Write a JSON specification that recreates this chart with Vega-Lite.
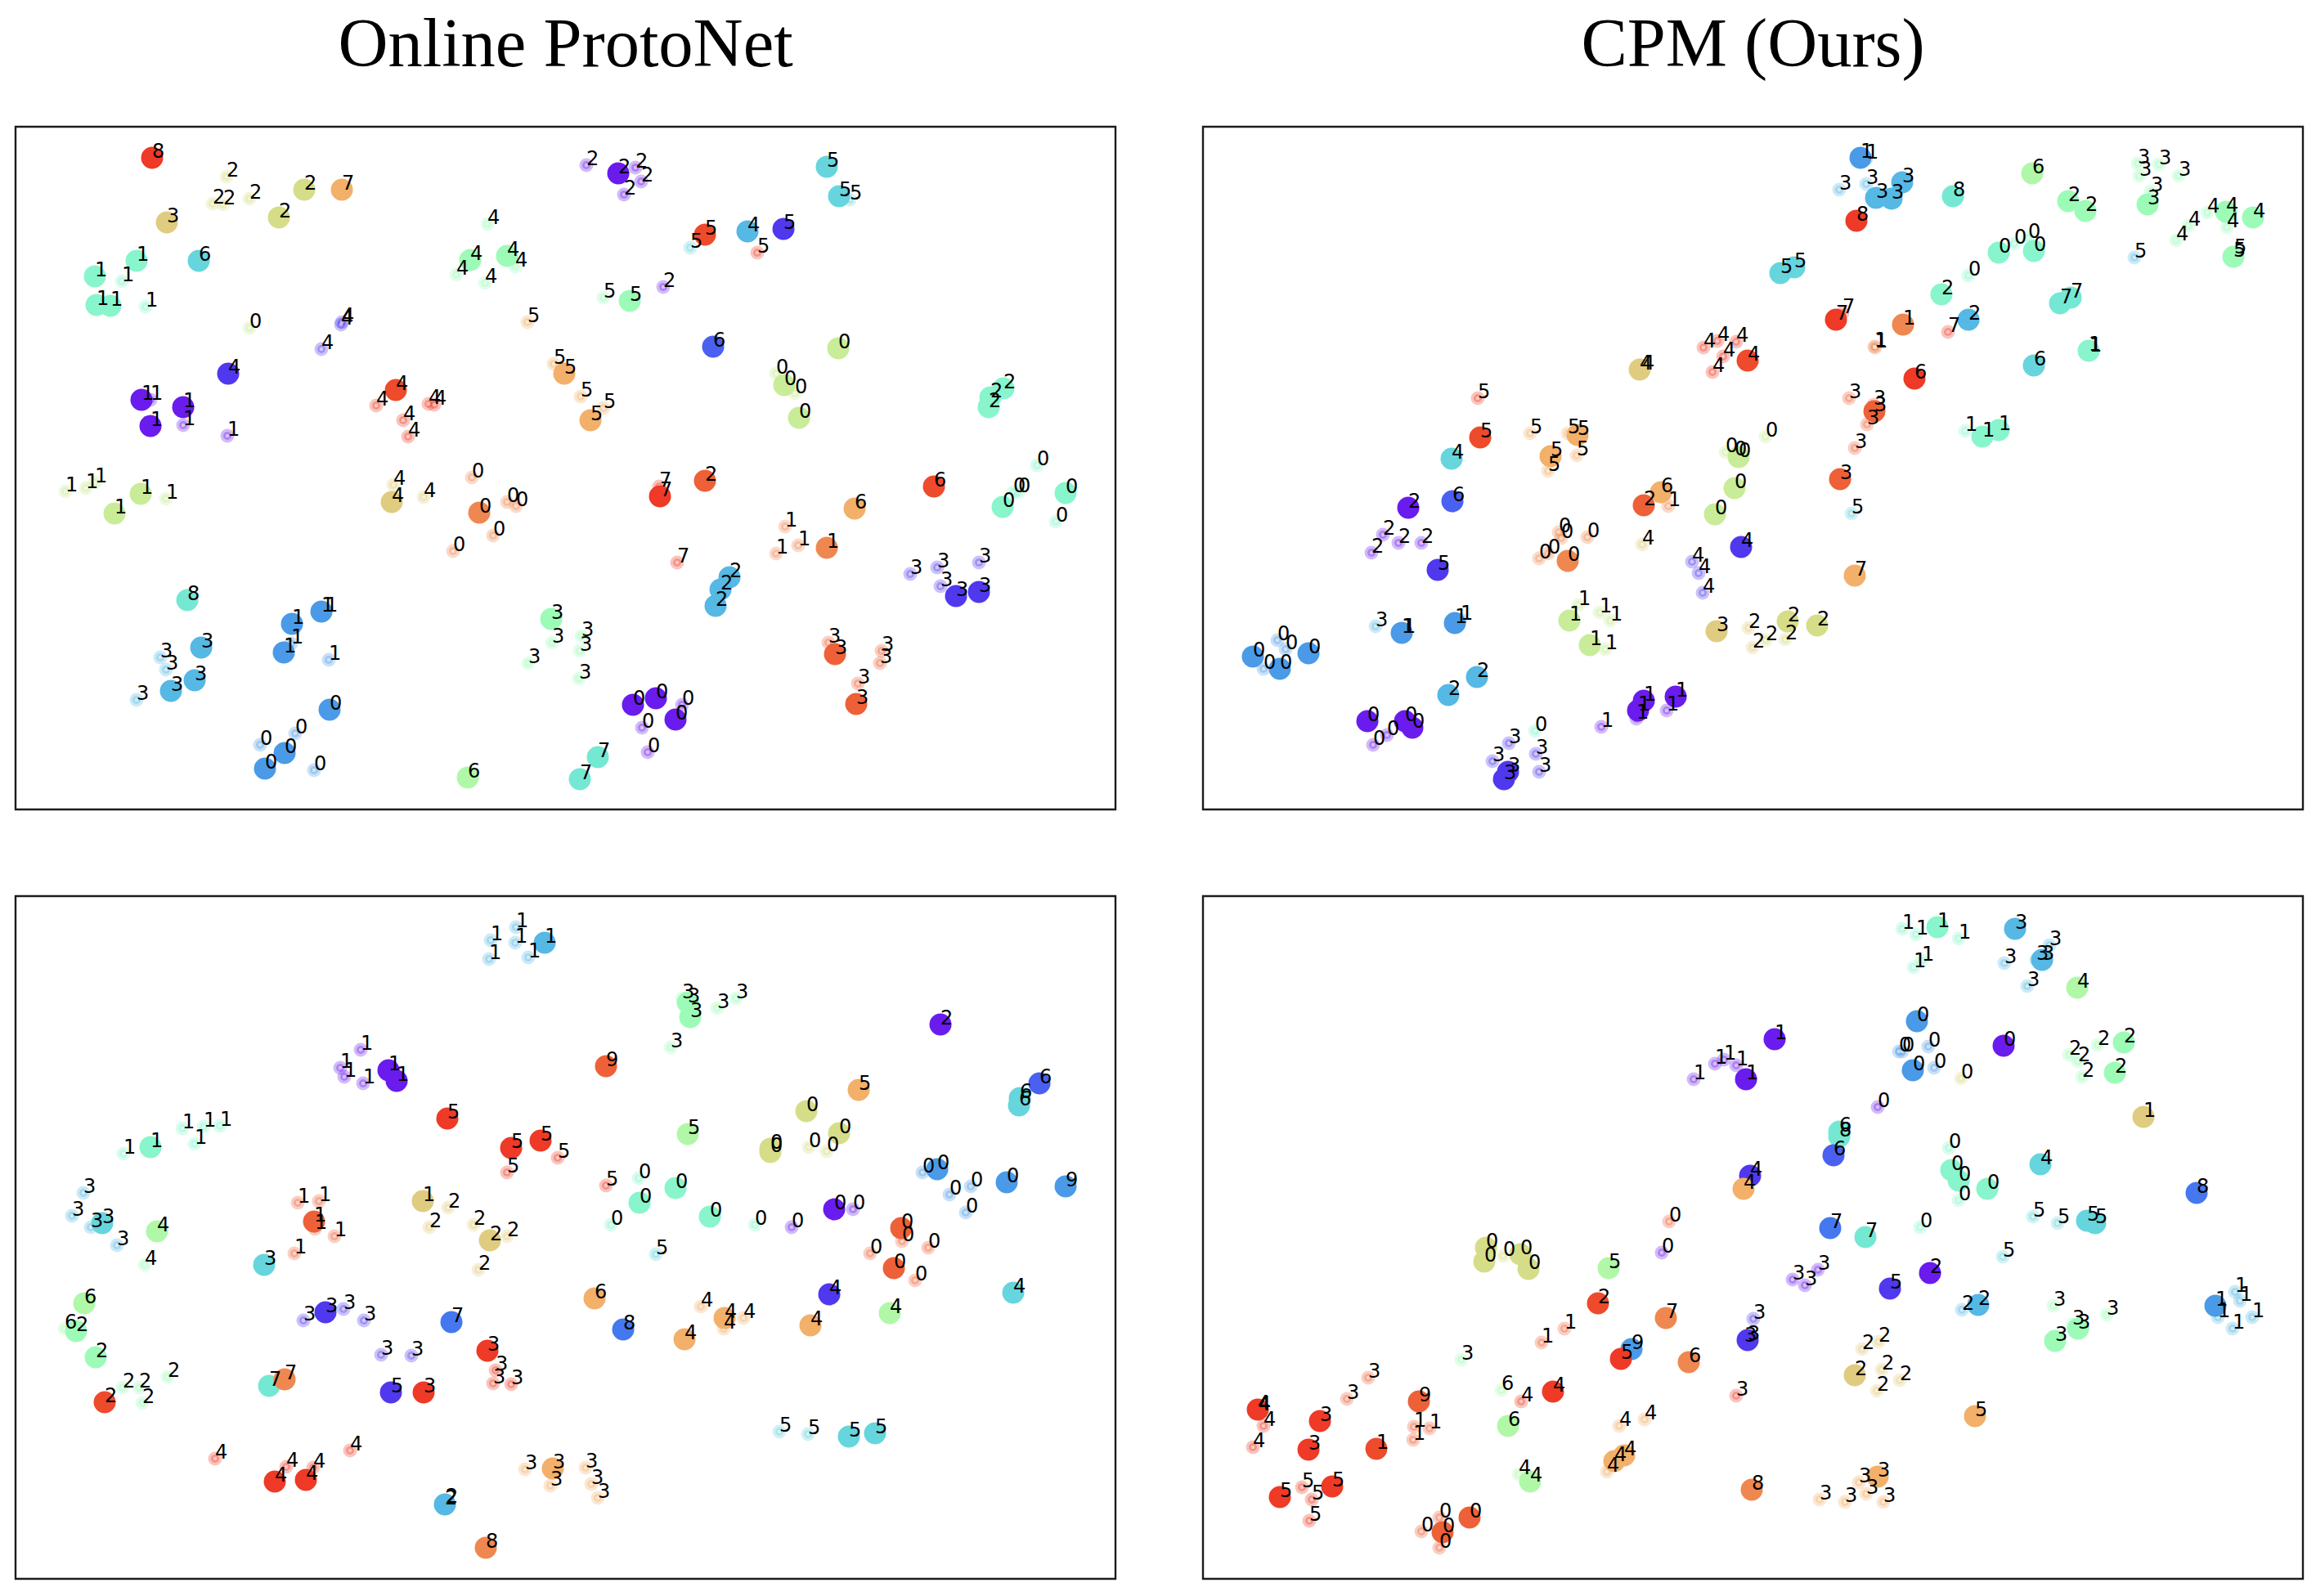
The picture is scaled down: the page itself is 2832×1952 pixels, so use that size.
{"$schema":"https://vega.github.io/schema/vega-lite/v6.json","background":"white","padding":{"left":17,"top":11,"right":10,"bottom":10},"autosize":{"type":"pad"},"config":{"view":{"stroke":"#1c1c1c","strokeWidth":2.4},"range":{"ordinal":["#6a1bee","#5038ee","#4a60f0","#4a9ae8","#55b8e5","#66d5dd","#75e8d3","#88f5cc","#9dfbb8","#b0f8a8","#c8ec98","#d6dd88","#e0cc80","#f2b06a","#ef8850","#ee6038","#ee3a26","#4578ef","#ee4a2c"]}},"spacing":102,
"datasets":{
"a":[{"x":185,"y":193,"d":8,"h":16,"k":1},{"x":203,"y":272,"d":3,"h":12,"k":1},{"x":371,"y":232,"d":2,"h":11,"k":1},{"x":417,"y":232,"d":7,"h":13,"k":1},{"x":340,"y":266,"d":2,"h":11,"k":1},{"x":166,"y":319,"d":1,"h":7,"k":1},{"x":242,"y":319,"d":6,"h":5,"k":1},{"x":115,"y":338,"d":1,"h":7,"k":1},{"x":117,"y":373,"d":1,"h":7,"k":1},{"x":134,"y":374,"d":1,"h":7,"k":1},{"x":574,"y":318,"d":4,"h":8,"k":1},{"x":619,"y":313,"d":4,"h":8,"k":1},{"x":278,"y":457,"d":4,"h":1,"k":1},{"x":483,"y":477,"d":4,"h":18,"k":1},{"x":172,"y":489,"d":1,"h":0,"k":1},{"x":223,"y":498,"d":1,"h":0,"k":1},{"x":183,"y":521,"d":1,"h":0,"k":1},{"x":689,"y":457,"d":5,"h":13,"k":1},{"x":276,"y":216,"d":2,"h":11,"k":0},{"x":259,"y":249,"d":2,"h":11,"k":0},{"x":272,"y":250,"d":2,"h":11,"k":0},{"x":304,"y":243,"d":2,"h":11,"k":0},{"x":595,"y":274,"d":4,"h":8,"k":0},{"x":557,"y":336,"d":4,"h":8,"k":0},{"x":629,"y":326,"d":4,"h":8,"k":0},{"x":592,"y":346,"d":4,"h":8,"k":0},{"x":148,"y":344,"d":1,"h":7,"k":0},{"x":177,"y":375,"d":1,"h":7,"k":0},{"x":304,"y":401,"d":0,"h":10,"k":0},{"x":416,"y":397,"d":4,"h":1,"k":0},{"x":417,"y":394,"d":4,"h":1,"k":0},{"x":392,"y":427,"d":4,"h":1,"k":0},{"x":644,"y":394,"d":5,"h":13,"k":0},{"x":676,"y":445,"d":5,"h":13,"k":0},{"x":459,"y":496,"d":4,"h":16,"k":0},{"x":523,"y":494,"d":4,"h":16,"k":0},{"x":530,"y":495,"d":4,"h":16,"k":0},{"x":492,"y":514,"d":4,"h":16,"k":0},{"x":498,"y":534,"d":4,"h":16,"k":0},{"x":183,"y":489,"d":1,"h":0,"k":0},{"x":223,"y":520,"d":1,"h":0,"k":0},{"x":277,"y":533,"d":1,"h":0,"k":0},{"x":716,"y":202,"d":2,"h":0,"k":0},{"x":776,"y":205,"d":2,"h":0,"k":0},{"x":783,"y":222,"d":2,"h":0,"k":0},{"x":762,"y":238,"d":2,"h":0,"k":0},{"x":755,"y":212,"d":2,"h":0,"k":1},{"x":1010,"y":204,"d":5,"h":5,"k":1},{"x":1025,"y":240,"d":5,"h":5,"k":1},{"x":1038,"y":244,"d":5,"h":5,"k":0},{"x":861,"y":287,"d":5,"h":18,"k":1},{"x":843,"y":303,"d":5,"h":5,"k":0},{"x":913,"y":283,"d":4,"h":4,"k":1},{"x":957,"y":280,"d":5,"h":1,"k":1},{"x":925,"y":309,"d":5,"h":16,"k":0},{"x":737,"y":364,"d":5,"h":8,"k":0},{"x":769,"y":368,"d":5,"h":8,"k":1},{"x":810,"y":351,"d":2,"h":0,"k":0},{"x":871,"y":424,"d":6,"h":2,"k":1},{"x":1024,"y":426,"d":0,"h":10,"k":1},{"x":948,"y":457,"d":0,"h":10,"k":0},{"x":958,"y":471,"d":0,"h":10,"k":1},{"x":971,"y":481,"d":0,"h":10,"k":0},{"x":976,"y":511,"d":0,"h":10,"k":1},{"x":1226,"y":475,"d":2,"h":7,"k":1},{"x":1210,"y":486,"d":2,"h":7,"k":1},{"x":1208,"y":498,"d":2,"h":7,"k":1},{"x":709,"y":485,"d":5,"h":13,"k":0},{"x":737,"y":499,"d":5,"h":13,"k":0},{"x":721,"y":514,"d":5,"h":13,"k":1},{"x":1267,"y":569,"d":0,"h":7,"k":0},{"x":79,"y":601,"d":1,"h":10,"k":0},{"x":104,"y":597,"d":1,"h":10,"k":0},{"x":115,"y":590,"d":1,"h":10,"k":0},{"x":171,"y":604,"d":1,"h":10,"k":1},{"x":139,"y":628,"d":1,"h":10,"k":1},{"x":202,"y":610,"d":1,"h":10,"k":0},{"x":480,"y":593,"d":4,"h":12,"k":0},{"x":478,"y":614,"d":4,"h":12,"k":1},{"x":517,"y":608,"d":4,"h":12,"k":0},{"x":576,"y":584,"d":0,"h":14,"k":0},{"x":585,"y":627,"d":0,"h":14,"k":1},{"x":619,"y":614,"d":0,"h":14,"k":0},{"x":630,"y":619,"d":0,"h":14,"k":0},{"x":602,"y":655,"d":0,"h":14,"k":0},{"x":553,"y":674,"d":0,"h":14,"k":0},{"x":228,"y":734,"d":8,"h":6,"k":1},{"x":392,"y":748,"d":1,"h":3,"k":1},{"x":397,"y":748,"d":1,"h":3,"k":0},{"x":356,"y":763,"d":1,"h":3,"k":1},{"x":355,"y":787,"d":1,"h":3,"k":0},{"x":346,"y":798,"d":1,"h":3,"k":1},{"x":401,"y":807,"d":1,"h":3,"k":0},{"x":245,"y":792,"d":3,"h":4,"k":1},{"x":195,"y":804,"d":3,"h":4,"k":0},{"x":202,"y":819,"d":3,"h":4,"k":0},{"x":237,"y":832,"d":3,"h":4,"k":1},{"x":208,"y":845,"d":3,"h":4,"k":1},{"x":166,"y":856,"d":3,"h":4,"k":0},{"x":402,"y":868,"d":0,"h":3,"k":1},{"x":360,"y":897,"d":0,"h":3,"k":0},{"x":317,"y":911,"d":0,"h":3,"k":0},{"x":347,"y":921,"d":0,"h":3,"k":1},{"x":323,"y":940,"d":0,"h":3,"k":1},{"x":383,"y":942,"d":0,"h":3,"k":0},{"x":571,"y":951,"d":6,"h":9,"k":1},{"x":673,"y":757,"d":3,"h":8,"k":1},{"x":674,"y":786,"d":3,"h":8,"k":0},{"x":645,"y":811,"d":3,"h":8,"k":0},{"x":707,"y":830,"d":3,"h":8,"k":0},{"x":805,"y":595,"d":7,"h":16,"k":0},{"x":806,"y":607,"d":7,"h":16,"k":1},{"x":861,"y":588,"d":2,"h":15,"k":1},{"x":959,"y":644,"d":1,"h":14,"k":0},{"x":975,"y":667,"d":1,"h":14,"k":0},{"x":948,"y":677,"d":1,"h":14,"k":0},{"x":1010,"y":670,"d":1,"h":14,"k":1},{"x":1044,"y":622,"d":6,"h":13,"k":1},{"x":1141,"y":595,"d":6,"h":18,"k":1},{"x":1225,"y":620,"d":0,"h":7,"k":1},{"x":1238,"y":602,"d":0,"h":7,"k":0},{"x":1244,"y":602,"d":0,"h":7,"k":0},{"x":1302,"y":603,"d":0,"h":7,"k":1},{"x":1290,"y":638,"d":0,"h":7,"k":0},{"x":827,"y":688,"d":7,"h":16,"k":0},{"x":891,"y":706,"d":2,"h":4,"k":1},{"x":880,"y":721,"d":2,"h":4,"k":1},{"x":874,"y":741,"d":2,"h":4,"k":1},{"x":1112,"y":702,"d":3,"h":1,"k":0},{"x":1145,"y":694,"d":3,"h":1,"k":0},{"x":1196,"y":688,"d":3,"h":1,"k":0},{"x":1149,"y":717,"d":3,"h":1,"k":0},{"x":1168,"y":729,"d":3,"h":1,"k":1},{"x":1196,"y":724,"d":3,"h":1,"k":1},{"x":1012,"y":786,"d":3,"h":15,"k":0},{"x":1020,"y":800,"d":3,"h":15,"k":1},{"x":1077,"y":796,"d":3,"h":15,"k":0},{"x":1075,"y":811,"d":3,"h":15,"k":0},{"x":1048,"y":836,"d":3,"h":15,"k":0},{"x":1046,"y":861,"d":3,"h":15,"k":1},{"x":773,"y":862,"d":0,"h":0,"k":1},{"x":801,"y":854,"d":0,"h":0,"k":1},{"x":833,"y":862,"d":0,"h":0,"k":0},{"x":825,"y":880,"d":0,"h":0,"k":1},{"x":784,"y":890,"d":0,"h":0,"k":0},{"x":791,"y":920,"d":0,"h":0,"k":0},{"x":730,"y":926,"d":7,"h":6,"k":1},{"x":708,"y":953,"d":7,"h":6,"k":1},{"x":710,"y":778,"d":3,"h":8,"k":0},{"x":708,"y":796,"d":3,"h":8,"k":0}],
"b":[{"x":1807,"y":487,"d":5,"h":16,"k":0},{"x":1810,"y":535,"d":5,"h":18,"k":1},{"x":1775,"y":561,"d":4,"h":5,"k":1},{"x":1776,"y":613,"d":6,"h":2,"k":1},{"x":1722,"y":621,"d":2,"h":0,"k":1},{"x":1691,"y":654,"d":2,"h":0,"k":0},{"x":1710,"y":664,"d":2,"h":0,"k":0},{"x":1738,"y":664,"d":2,"h":0,"k":0},{"x":1677,"y":676,"d":2,"h":0,"k":0},{"x":1758,"y":697,"d":5,"h":1,"k":1},{"x":1682,"y":766,"d":3,"h":4,"k":0},{"x":1714,"y":774,"d":1,"h":3,"k":1},{"x":1716,"y":774,"d":1,"h":3,"k":0},{"x":1779,"y":762,"d":1,"h":3,"k":1},{"x":1786,"y":758,"d":1,"h":3,"k":0},{"x":1532,"y":803,"d":0,"h":3,"k":1},{"x":1562,"y":783,"d":0,"h":3,"k":0},{"x":1572,"y":794,"d":0,"h":3,"k":0},{"x":1545,"y":818,"d":0,"h":3,"k":0},{"x":1565,"y":818,"d":0,"h":3,"k":1},{"x":1600,"y":799,"d":0,"h":3,"k":1},{"x":1806,"y":828,"d":2,"h":4,"k":1},{"x":1771,"y":850,"d":2,"h":4,"k":1},{"x":1672,"y":882,"d":0,"h":0,"k":1},{"x":1718,"y":882,"d":0,"h":0,"k":1},{"x":1727,"y":890,"d":0,"h":0,"k":1},{"x":1696,"y":899,"d":0,"h":0,"k":0},{"x":1679,"y":911,"d":0,"h":0,"k":0},{"x":1845,"y":909,"d":3,"h":1,"k":0},{"x":1825,"y":931,"d":3,"h":1,"k":0},{"x":1844,"y":944,"d":3,"h":1,"k":1},{"x":1839,"y":953,"d":3,"h":1,"k":1},{"x":1878,"y":922,"d":3,"h":1,"k":0},{"x":1882,"y":944,"d":3,"h":1,"k":0},{"x":1877,"y":894,"d":0,"h":7,"k":0},{"x":1958,"y":889,"d":1,"h":0,"k":0},{"x":2001,"y":879,"d":1,"h":0,"k":0},{"x":2003,"y":869,"d":1,"h":0,"k":1},{"x":2010,"y":857,"d":1,"h":0,"k":1},{"x":2049,"y":852,"d":1,"h":0,"k":1},{"x":2038,"y":869,"d":1,"h":0,"k":0},{"x":1871,"y":530,"d":5,"h":13,"k":0},{"x":1917,"y":530,"d":5,"h":13,"k":0},{"x":1929,"y":532,"d":5,"h":13,"k":1},{"x":1928,"y":557,"d":5,"h":13,"k":0},{"x":1896,"y":558,"d":5,"h":13,"k":1},{"x":1893,"y":576,"d":5,"h":13,"k":0},{"x":2005,"y":452,"d":4,"h":12,"k":1},{"x":2008,"y":452,"d":4,"h":12,"k":0},{"x":1906,"y":651,"d":0,"h":14,"k":0},{"x":1909,"y":658,"d":0,"h":14,"k":0},{"x":1941,"y":657,"d":0,"h":14,"k":0},{"x":1893,"y":677,"d":0,"h":14,"k":0},{"x":1882,"y":683,"d":0,"h":14,"k":0},{"x":1917,"y":686,"d":0,"h":14,"k":1},{"x":2010,"y":618,"d":2,"h":15,"k":1},{"x":2031,"y":602,"d":6,"h":13,"k":1},{"x":2040,"y":619,"d":1,"h":14,"k":0},{"x":2008,"y":666,"d":4,"h":12,"k":0},{"x":1930,"y":740,"d":1,"h":10,"k":0},{"x":1919,"y":759,"d":1,"h":10,"k":1},{"x":1956,"y":749,"d":1,"h":10,"k":0},{"x":1969,"y":759,"d":1,"h":10,"k":0},{"x":1944,"y":789,"d":1,"h":10,"k":1},{"x":1963,"y":794,"d":1,"h":10,"k":0},{"x":2099,"y":772,"d":3,"h":12,"k":1},{"x":2083,"y":425,"d":4,"h":16,"k":0},{"x":2100,"y":417,"d":4,"h":16,"k":0},{"x":2123,"y":418,"d":4,"h":16,"k":0},{"x":2107,"y":436,"d":4,"h":16,"k":0},{"x":2094,"y":455,"d":4,"h":16,"k":0},{"x":2137,"y":441,"d":4,"h":18,"k":1},{"x":2110,"y":553,"d":0,"h":10,"k":0},{"x":2126,"y":559,"d":0,"h":10,"k":1},{"x":2121,"y":557,"d":0,"h":10,"k":0},{"x":2121,"y":597,"d":0,"h":10,"k":1},{"x":2097,"y":629,"d":0,"h":10,"k":1},{"x":2129,"y":669,"d":4,"h":1,"k":1},{"x":2069,"y":687,"d":4,"h":1,"k":0},{"x":2077,"y":701,"d":4,"h":1,"k":0},{"x":2082,"y":725,"d":4,"h":1,"k":0},{"x":2138,"y":768,"d":2,"h":12,"k":0},{"x":2143,"y":792,"d":2,"h":12,"k":0},{"x":2275,"y":193,"d":1,"h":3,"k":1},{"x":2282,"y":194,"d":1,"h":3,"k":0},{"x":2249,"y":232,"d":3,"h":4,"k":0},{"x":2282,"y":225,"d":3,"h":4,"k":0},{"x":2326,"y":223,"d":3,"h":4,"k":1},{"x":2294,"y":242,"d":3,"h":4,"k":1},{"x":2313,"y":243,"d":3,"h":4,"k":1},{"x":2270,"y":270,"d":8,"h":16,"k":1},{"x":2388,"y":240,"d":8,"h":6,"k":1},{"x":2485,"y":212,"d":6,"h":9,"k":1},{"x":2529,"y":246,"d":2,"h":8,"k":1},{"x":2550,"y":258,"d":2,"h":8,"k":1},{"x":2614,"y":200,"d":3,"h":8,"k":0},{"x":2640,"y":201,"d":3,"h":8,"k":0},{"x":2616,"y":215,"d":3,"h":8,"k":0},{"x":2664,"y":215,"d":3,"h":8,"k":0},{"x":2630,"y":234,"d":3,"h":8,"k":0},{"x":2626,"y":250,"d":3,"h":8,"k":1},{"x":2699,"y":260,"d":4,"h":8,"k":0},{"x":2676,"y":276,"d":4,"h":8,"k":0},{"x":2661,"y":294,"d":4,"h":8,"k":0},{"x":2722,"y":259,"d":4,"h":8,"k":1},{"x":2723,"y":278,"d":4,"h":8,"k":0},{"x":2755,"y":266,"d":4,"h":8,"k":1},{"x":2610,"y":315,"d":5,"h":4,"k":0},{"x":2731,"y":314,"d":5,"h":8,"k":1},{"x":2732,"y":310,"d":5,"h":8,"k":0},{"x":2444,"y":309,"d":0,"h":7,"k":1},{"x":2463,"y":298,"d":0,"h":7,"k":0},{"x":2480,"y":291,"d":0,"h":7,"k":0},{"x":2487,"y":307,"d":0,"h":7,"k":1},{"x":2407,"y":337,"d":0,"h":7,"k":0},{"x":2374,"y":360,"d":2,"h":7,"k":1},{"x":2194,"y":327,"d":5,"h":5,"k":1},{"x":2177,"y":334,"d":5,"h":5,"k":1},{"x":2245,"y":391,"d":7,"h":16,"k":1},{"x":2253,"y":383,"d":7,"h":16,"k":0},{"x":2327,"y":397,"d":1,"h":14,"k":1},{"x":2292,"y":424,"d":1,"h":14,"k":0},{"x":2293,"y":425,"d":1,"h":14,"k":0},{"x":2382,"y":406,"d":7,"h":16,"k":0},{"x":2407,"y":391,"d":2,"h":4,"k":1},{"x":2519,"y":371,"d":7,"h":6,"k":1},{"x":2532,"y":364,"d":7,"h":6,"k":1},{"x":2554,"y":429,"d":1,"h":7,"k":1},{"x":2555,"y":430,"d":1,"h":7,"k":0},{"x":2487,"y":447,"d":6,"h":5,"k":1},{"x":2341,"y":463,"d":6,"h":16,"k":1},{"x":2261,"y":487,"d":3,"h":15,"k":0},{"x":2291,"y":495,"d":3,"h":15,"k":0},{"x":2292,"y":503,"d":3,"h":15,"k":1},{"x":2283,"y":519,"d":3,"h":15,"k":0},{"x":2268,"y":548,"d":3,"h":15,"k":0},{"x":2250,"y":586,"d":3,"h":15,"k":1},{"x":2159,"y":534,"d":0,"h":10,"k":0},{"x":2403,"y":527,"d":1,"h":7,"k":0},{"x":2424,"y":534,"d":1,"h":7,"k":1},{"x":2444,"y":526,"d":1,"h":7,"k":1},{"x":2264,"y":628,"d":5,"h":5,"k":0},{"x":2268,"y":704,"d":7,"h":13,"k":1},{"x":2186,"y":760,"d":2,"h":11,"k":1},{"x":2222,"y":765,"d":2,"h":11,"k":1},{"x":2159,"y":783,"d":2,"h":11,"k":0},{"x":2183,"y":782,"d":2,"h":11,"k":0}],
"c":[{"x":630,"y":1135,"d":1,"h":4,"k":0},{"x":599,"y":1151,"d":1,"h":4,"k":0},{"x":629,"y":1154,"d":1,"h":4,"k":0},{"x":597,"y":1174,"d":1,"h":4,"k":0},{"x":645,"y":1172,"d":1,"h":4,"k":0},{"x":665,"y":1154,"d":1,"h":4,"k":1},{"x":440,"y":1285,"d":1,"h":0,"k":0},{"x":415,"y":1307,"d":1,"h":0,"k":0},{"x":420,"y":1318,"d":1,"h":0,"k":0},{"x":443,"y":1326,"d":1,"h":0,"k":0},{"x":474,"y":1310,"d":1,"h":0,"k":1},{"x":484,"y":1323,"d":1,"h":0,"k":1},{"x":546,"y":1369,"d":5,"h":16,"k":1},{"x":624,"y":1405,"d":5,"h":16,"k":1},{"x":660,"y":1396,"d":5,"h":16,"k":1},{"x":619,"y":1435,"d":5,"h":16,"k":0},{"x":681,"y":1417,"d":5,"h":16,"k":0},{"x":183,"y":1404,"d":1,"h":7,"k":1},{"x":150,"y":1412,"d":1,"h":7,"k":0},{"x":222,"y":1381,"d":1,"h":7,"k":0},{"x":248,"y":1379,"d":1,"h":7,"k":0},{"x":268,"y":1378,"d":1,"h":7,"k":0},{"x":237,"y":1400,"d":1,"h":7,"k":0},{"x":101,"y":1460,"d":3,"h":4,"k":0},{"x":87,"y":1488,"d":3,"h":4,"k":0},{"x":110,"y":1502,"d":3,"h":4,"k":0},{"x":124,"y":1497,"d":3,"h":5,"k":1},{"x":142,"y":1524,"d":3,"h":4,"k":0},{"x":191,"y":1507,"d":4,"h":9,"k":1},{"x":176,"y":1548,"d":4,"h":8,"k":0},{"x":363,"y":1472,"d":1,"h":15,"k":0},{"x":389,"y":1470,"d":1,"h":15,"k":0},{"x":383,"y":1495,"d":1,"h":15,"k":1},{"x":384,"y":1504,"d":1,"h":15,"k":0},{"x":408,"y":1513,"d":1,"h":15,"k":0},{"x":359,"y":1534,"d":1,"h":15,"k":0},{"x":322,"y":1548,"d":3,"h":5,"k":1},{"x":516,"y":1470,"d":1,"h":12,"k":1},{"x":547,"y":1478,"d":2,"h":12,"k":0},{"x":524,"y":1502,"d":2,"h":12,"k":0},{"x":578,"y":1499,"d":2,"h":12,"k":0},{"x":598,"y":1518,"d":2,"h":12,"k":1},{"x":619,"y":1513,"d":2,"h":12,"k":0},{"x":584,"y":1554,"d":2,"h":12,"k":0},{"x":102,"y":1595,"d":6,"h":9,"k":1},{"x":78,"y":1626,"d":6,"h":9,"k":0},{"x":92,"y":1629,"d":2,"h":8,"k":1},{"x":116,"y":1661,"d":2,"h":8,"k":1},{"x":127,"y":1716,"d":2,"h":18,"k":1},{"x":149,"y":1698,"d":2,"h":8,"k":0},{"x":169,"y":1698,"d":2,"h":8,"k":0},{"x":173,"y":1717,"d":2,"h":8,"k":0},{"x":204,"y":1685,"d":2,"h":8,"k":0},{"x":370,"y":1616,"d":3,"h":1,"k":0},{"x":397,"y":1606,"d":3,"h":1,"k":1},{"x":419,"y":1602,"d":3,"h":1,"k":0},{"x":444,"y":1616,"d":3,"h":1,"k":0},{"x":465,"y":1658,"d":3,"h":1,"k":0},{"x":502,"y":1659,"d":3,"h":1,"k":0},{"x":551,"y":1618,"d":7,"h":17,"k":1},{"x":595,"y":1653,"d":3,"h":16,"k":1},{"x":605,"y":1677,"d":3,"h":16,"k":0},{"x":602,"y":1693,"d":3,"h":16,"k":0},{"x":624,"y":1694,"d":3,"h":16,"k":0},{"x":517,"y":1704,"d":3,"h":16,"k":1},{"x":477,"y":1704,"d":5,"h":1,"k":1},{"x":328,"y":1696,"d":7,"h":6,"k":1},{"x":347,"y":1688,"d":7,"h":14,"k":1},{"x":262,"y":1785,"d":4,"h":16,"k":0},{"x":349,"y":1795,"d":4,"h":16,"k":0},{"x":382,"y":1796,"d":4,"h":16,"k":0},{"x":427,"y":1775,"d":4,"h":16,"k":0},{"x":335,"y":1813,"d":4,"h":16,"k":1},{"x":373,"y":1811,"d":4,"h":16,"k":1},{"x":543,"y":1841,"d":2,"h":4,"k":1},{"x":544,"y":1839,"d":2,"h":4,"k":0},{"x":593,"y":1894,"d":8,"h":14,"k":1},{"x":641,"y":1798,"d":3,"h":13,"k":0},{"x":675,"y":1797,"d":3,"h":13,"k":1},{"x":672,"y":1818,"d":3,"h":13,"k":0},{"x":715,"y":1796,"d":3,"h":13,"k":0},{"x":722,"y":1816,"d":3,"h":13,"k":0},{"x":730,"y":1833,"d":3,"h":13,"k":0},{"x":833,"y":1222,"d":3,"h":8,"k":0},{"x":840,"y":1227,"d":3,"h":8,"k":1},{"x":843,"y":1245,"d":3,"h":8,"k":1},{"x":876,"y":1234,"d":3,"h":8,"k":0},{"x":899,"y":1222,"d":3,"h":8,"k":0},{"x":819,"y":1282,"d":3,"h":8,"k":0},{"x":740,"y":1305,"d":9,"h":15,"k":1},{"x":1149,"y":1254,"d":2,"h":0,"k":1},{"x":1049,"y":1334,"d":5,"h":13,"k":1},{"x":1270,"y":1326,"d":6,"h":2,"k":1},{"x":1246,"y":1344,"d":6,"h":5,"k":1},{"x":1245,"y":1353,"d":6,"h":5,"k":1},{"x":985,"y":1360,"d":0,"h":11,"k":1},{"x":1025,"y":1387,"d":0,"h":11,"k":1},{"x":988,"y":1404,"d":0,"h":11,"k":0},{"x":1010,"y":1409,"d":0,"h":11,"k":0},{"x":941,"y":1406,"d":0,"h":11,"k":1},{"x":941,"y":1410,"d":0,"h":11,"k":1},{"x":840,"y":1388,"d":5,"h":9,"k":1},{"x":740,"y":1451,"d":5,"h":16,"k":0},{"x":780,"y":1442,"d":0,"h":7,"k":0},{"x":825,"y":1454,"d":0,"h":7,"k":1},{"x":781,"y":1472,"d":0,"h":7,"k":1},{"x":746,"y":1499,"d":0,"h":7,"k":0},{"x":867,"y":1489,"d":0,"h":7,"k":1},{"x":922,"y":1499,"d":0,"h":7,"k":0},{"x":801,"y":1535,"d":5,"h":5,"k":0},{"x":967,"y":1502,"d":0,"h":0,"k":0},{"x":1019,"y":1480,"d":0,"h":0,"k":1},{"x":1042,"y":1480,"d":0,"h":0,"k":0},{"x":1127,"y":1435,"d":0,"h":3,"k":0},{"x":1145,"y":1431,"d":0,"h":3,"k":1},{"x":1160,"y":1462,"d":0,"h":3,"k":0},{"x":1186,"y":1452,"d":0,"h":3,"k":0},{"x":1180,"y":1484,"d":0,"h":3,"k":0},{"x":1230,"y":1447,"d":0,"h":3,"k":1},{"x":1302,"y":1452,"d":9,"h":3,"k":1},{"x":1101,"y":1503,"d":0,"h":15,"k":1},{"x":1102,"y":1519,"d":0,"h":15,"k":0},{"x":1063,"y":1534,"d":0,"h":15,"k":0},{"x":1134,"y":1527,"d":0,"h":15,"k":0},{"x":1092,"y":1552,"d":0,"h":15,"k":1},{"x":1118,"y":1567,"d":0,"h":15,"k":0},{"x":1013,"y":1584,"d":4,"h":1,"k":1},{"x":1238,"y":1582,"d":4,"h":5,"k":1},{"x":1087,"y":1607,"d":4,"h":9,"k":1},{"x":726,"y":1589,"d":6,"h":13,"k":1},{"x":761,"y":1627,"d":8,"h":17,"k":1},{"x":856,"y":1599,"d":4,"h":13,"k":0},{"x":885,"y":1613,"d":4,"h":13,"k":1},{"x":908,"y":1613,"d":4,"h":13,"k":0},{"x":884,"y":1626,"d":4,"h":13,"k":0},{"x":836,"y":1639,"d":4,"h":13,"k":1},{"x":990,"y":1622,"d":4,"h":13,"k":1},{"x":952,"y":1752,"d":5,"h":5,"k":0},{"x":987,"y":1755,"d":5,"h":5,"k":0},{"x":1037,"y":1758,"d":5,"h":5,"k":1},{"x":1069,"y":1754,"d":5,"h":5,"k":1}],
"e":[{"x":2071,"y":1321,"d":1,"h":0,"k":0},{"x":2097,"y":1302,"d":1,"h":0,"k":0},{"x":2108,"y":1297,"d":1,"h":0,"k":0},{"x":2123,"y":1304,"d":1,"h":0,"k":0},{"x":2135,"y":1321,"d":1,"h":0,"k":1},{"x":2140,"y":1439,"d":4,"h":1,"k":1},{"x":2132,"y":1455,"d":4,"h":13,"k":1},{"x":2041,"y":1495,"d":0,"h":15,"k":0},{"x":2032,"y":1533,"d":0,"h":0,"k":0},{"x":1817,"y":1527,"d":0,"h":11,"k":1},{"x":1815,"y":1544,"d":0,"h":11,"k":1},{"x":1838,"y":1537,"d":0,"h":11,"k":0},{"x":1859,"y":1535,"d":0,"h":11,"k":1},{"x":1869,"y":1553,"d":0,"h":11,"k":1},{"x":1967,"y":1552,"d":5,"h":9,"k":1},{"x":1954,"y":1595,"d":2,"h":18,"k":1},{"x":1913,"y":1626,"d":1,"h":15,"k":0},{"x":1885,"y":1643,"d":1,"h":15,"k":0},{"x":2037,"y":1613,"d":7,"h":14,"k":1},{"x":2144,"y":1614,"d":3,"h":1,"k":0},{"x":2137,"y":1640,"d":3,"h":1,"k":1},{"x":2133,"y":1642,"d":3,"h":1,"k":0},{"x":1995,"y":1651,"d":9,"h":3,"k":1},{"x":1982,"y":1663,"d":5,"h":16,"k":1},{"x":2065,"y":1667,"d":6,"h":14,"k":1},{"x":1787,"y":1664,"d":3,"h":8,"k":0},{"x":1673,"y":1686,"d":3,"h":15,"k":0},{"x":1647,"y":1712,"d":3,"h":15,"k":0},{"x":1735,"y":1715,"d":9,"h":15,"k":1},{"x":1836,"y":1701,"d":6,"h":9,"k":0},{"x":1860,"y":1715,"d":4,"h":16,"k":0},{"x":1899,"y":1703,"d":4,"h":16,"k":1},{"x":2123,"y":1708,"d":3,"h":16,"k":0},{"x":1538,"y":1725,"d":4,"h":16,"k":1},{"x":1539,"y":1726,"d":4,"h":16,"k":0},{"x":1545,"y":1745,"d":4,"h":16,"k":0},{"x":1532,"y":1771,"d":4,"h":16,"k":0},{"x":1614,"y":1739,"d":3,"h":16,"k":1},{"x":1600,"y":1774,"d":3,"h":16,"k":1},{"x":1683,"y":1773,"d":1,"h":18,"k":1},{"x":1729,"y":1746,"d":1,"h":15,"k":0},{"x":1748,"y":1748,"d":1,"h":15,"k":0},{"x":1728,"y":1762,"d":1,"h":15,"k":0},{"x":1844,"y":1745,"d":6,"h":9,"k":1},{"x":1980,"y":1745,"d":4,"h":13,"k":0},{"x":2011,"y":1737,"d":4,"h":13,"k":0},{"x":1986,"y":1781,"d":4,"h":13,"k":1},{"x":1974,"y":1788,"d":4,"h":13,"k":1},{"x":1965,"y":1801,"d":4,"h":13,"k":0},{"x":1857,"y":1804,"d":4,"h":9,"k":0},{"x":1871,"y":1813,"d":4,"h":9,"k":1},{"x":2142,"y":1823,"d":8,"h":14,"k":1},{"x":1565,"y":1832,"d":5,"h":16,"k":1},{"x":1592,"y":1820,"d":5,"h":16,"k":0},{"x":1604,"y":1835,"d":5,"h":16,"k":0},{"x":1629,"y":1819,"d":5,"h":16,"k":1},{"x":1601,"y":1861,"d":5,"h":16,"k":0},{"x":1760,"y":1857,"d":0,"h":15,"k":0},{"x":1797,"y":1857,"d":0,"h":15,"k":1},{"x":1738,"y":1874,"d":0,"h":15,"k":0},{"x":1764,"y":1875,"d":0,"h":15,"k":1},{"x":1760,"y":1894,"d":0,"h":15,"k":0},{"x":2170,"y":1272,"d":1,"h":0,"k":1},{"x":2326,"y":1137,"d":1,"h":7,"k":0},{"x":2343,"y":1144,"d":1,"h":7,"k":0},{"x":2369,"y":1135,"d":1,"h":7,"k":1},{"x":2395,"y":1149,"d":1,"h":7,"k":0},{"x":2350,"y":1176,"d":1,"h":7,"k":0},{"x":2340,"y":1184,"d":1,"h":7,"k":0},{"x":2464,"y":1137,"d":3,"h":4,"k":1},{"x":2451,"y":1179,"d":3,"h":4,"k":0},{"x":2506,"y":1157,"d":3,"h":4,"k":0},{"x":2490,"y":1175,"d":3,"h":4,"k":0},{"x":2497,"y":1175,"d":3,"h":4,"k":1},{"x":2479,"y":1207,"d":3,"h":4,"k":0},{"x":2540,"y":1209,"d":4,"h":9,"k":1},{"x":2344,"y":1250,"d":0,"h":3,"k":1},{"x":2322,"y":1287,"d":0,"h":3,"k":0},{"x":2326,"y":1287,"d":0,"h":3,"k":0},{"x":2358,"y":1281,"d":0,"h":3,"k":0},{"x":2339,"y":1310,"d":0,"h":3,"k":1},{"x":2365,"y":1307,"d":0,"h":3,"k":0},{"x":2398,"y":1320,"d":0,"h":11,"k":0},{"x":2450,"y":1280,"d":0,"h":0,"k":1},{"x":2530,"y":1291,"d":2,"h":8,"k":0},{"x":2541,"y":1299,"d":2,"h":8,"k":0},{"x":2565,"y":1279,"d":2,"h":8,"k":0},{"x":2597,"y":1276,"d":2,"h":8,"k":1},{"x":2586,"y":1313,"d":2,"h":8,"k":1},{"x":2546,"y":1318,"d":2,"h":8,"k":0},{"x":2296,"y":1355,"d":0,"h":0,"k":0},{"x":2621,"y":1367,"d":1,"h":12,"k":1},{"x":2249,"y":1385,"d":6,"h":6,"k":1},{"x":2249,"y":1391,"d":8,"h":6,"k":1},{"x":2242,"y":1414,"d":6,"h":2,"k":1},{"x":2383,"y":1405,"d":0,"h":7,"k":0},{"x":2386,"y":1432,"d":0,"h":7,"k":1},{"x":2395,"y":1445,"d":0,"h":7,"k":1},{"x":2395,"y":1469,"d":0,"h":7,"k":0},{"x":2430,"y":1455,"d":0,"h":7,"k":1},{"x":2495,"y":1425,"d":4,"h":5,"k":1},{"x":2686,"y":1460,"d":8,"h":17,"k":1},{"x":2486,"y":1489,"d":5,"h":5,"k":0},{"x":2516,"y":1497,"d":5,"h":5,"k":0},{"x":2552,"y":1494,"d":5,"h":5,"k":1},{"x":2562,"y":1497,"d":5,"h":5,"k":1},{"x":2449,"y":1538,"d":5,"h":5,"k":0},{"x":2238,"y":1503,"d":7,"h":17,"k":1},{"x":2281,"y":1514,"d":7,"h":6,"k":1},{"x":2348,"y":1502,"d":0,"h":7,"k":0},{"x":2192,"y":1566,"d":3,"h":0,"k":0},{"x":2223,"y":1554,"d":3,"h":0,"k":0},{"x":2207,"y":1573,"d":3,"h":0,"k":0},{"x":2311,"y":1577,"d":5,"h":1,"k":1},{"x":2360,"y":1558,"d":2,"h":0,"k":1},{"x":2399,"y":1603,"d":2,"h":4,"k":0},{"x":2419,"y":1597,"d":2,"h":4,"k":1},{"x":2511,"y":1598,"d":3,"h":8,"k":0},{"x":2534,"y":1621,"d":3,"h":8,"k":0},{"x":2541,"y":1626,"d":3,"h":8,"k":1},{"x":2576,"y":1609,"d":3,"h":8,"k":0},{"x":2513,"y":1641,"d":3,"h":8,"k":1},{"x":2709,"y":1598,"d":1,"h":3,"k":1},{"x":2712,"y":1612,"d":1,"h":4,"k":0},{"x":2733,"y":1581,"d":1,"h":4,"k":0},{"x":2739,"y":1592,"d":1,"h":4,"k":0},{"x":2754,"y":1612,"d":1,"h":4,"k":0},{"x":2730,"y":1626,"d":1,"h":4,"k":0},{"x":2277,"y":1651,"d":2,"h":12,"k":0},{"x":2297,"y":1642,"d":2,"h":12,"k":0},{"x":2268,"y":1683,"d":2,"h":12,"k":1},{"x":2301,"y":1676,"d":2,"h":12,"k":0},{"x":2323,"y":1689,"d":2,"h":12,"k":0},{"x":2295,"y":1702,"d":2,"h":12,"k":0},{"x":2415,"y":1733,"d":5,"h":13,"k":1},{"x":2296,"y":1807,"d":3,"h":13,"k":1},{"x":2273,"y":1814,"d":3,"h":13,"k":0},{"x":2282,"y":1828,"d":3,"h":13,"k":0},{"x":2225,"y":1835,"d":3,"h":13,"k":0},{"x":2256,"y":1838,"d":3,"h":13,"k":0},{"x":2303,"y":1838,"d":3,"h":13,"k":0}]
},
"vconcat":[
{"spacing":103,"hconcat":[
{"width":1345,"height":835,"title":{"text":"Online ProtoNet","font":"Liberation Serif","fontSize":84.5,"fontWeight":"normal","anchor":"middle","baseline":"alphabetic","offset":-10,"color":"black"},"data":{"name":"a"},
"encoding":{"x":{"field":"x","type":"quantitative","scale":{"domain":[18,1363],"nice":false,"zero":false},"axis":null},"y":{"field":"y","type":"quantitative","scale":{"domain":[990,155],"nice":false,"zero":false},"axis":null},"color":{"field":"h","type":"ordinal","scale":{"domain":[0,1,2,3,4,5,6,7,8,9,10,11,12,13,14,15,16,17,18]},"legend":null}},
"layer":[
{"transform":[{"filter":"datum.k==0"}],"mark":{"type":"point","filled":true,"size":290,"opacity":0.3}},
{"transform":[{"filter":"datum.k==0"}],"mark":{"type":"point","filled":true,"size":100,"opacity":0.35}},
{"transform":[{"filter":"datum.k==0"}],"mark":{"type":"point","filled":true,"size":20,"opacity":0.5},"encoding":{"color":{"value":"white"}}},
{"transform":[{"filter":"datum.k==1"}],"mark":{"type":"point","filled":true,"size":729,"opacity":1}},
{"mark":{"type":"text","font":"DejaVu Sans","fontSize":24,"align":"left","baseline":"alphabetic"},"encoding":{"text":{"field":"d","type":"nominal"},"color":{"value":"black"}}}
]},
{"width":1345,"height":835,"title":{"text":"CPM (Ours)","font":"Liberation Serif","fontSize":84.5,"fontWeight":"normal","anchor":"middle","baseline":"alphabetic","offset":-10,"color":"black"},"data":{"name":"b"},
"encoding":{"x":{"field":"x","type":"quantitative","scale":{"domain":[1471,2816],"nice":false,"zero":false},"axis":null},"y":{"field":"y","type":"quantitative","scale":{"domain":[990,155],"nice":false,"zero":false},"axis":null},"color":{"field":"h","type":"ordinal","scale":{"domain":[0,1,2,3,4,5,6,7,8,9,10,11,12,13,14,15,16,17,18]},"legend":null}},
"layer":[
{"transform":[{"filter":"datum.k==0"}],"mark":{"type":"point","filled":true,"size":290,"opacity":0.3}},
{"transform":[{"filter":"datum.k==0"}],"mark":{"type":"point","filled":true,"size":100,"opacity":0.35}},
{"transform":[{"filter":"datum.k==0"}],"mark":{"type":"point","filled":true,"size":20,"opacity":0.5},"encoding":{"color":{"value":"white"}}},
{"transform":[{"filter":"datum.k==1"}],"mark":{"type":"point","filled":true,"size":729,"opacity":1}},
{"mark":{"type":"text","font":"DejaVu Sans","fontSize":24,"align":"left","baseline":"alphabetic"},"encoding":{"text":{"field":"d","type":"nominal"},"color":{"value":"black"}}}
]}
]},
{"spacing":103,"hconcat":[
{"width":1345,"height":835,"data":{"name":"c"},
"encoding":{"x":{"field":"x","type":"quantitative","scale":{"domain":[18,1363],"nice":false,"zero":false},"axis":null},"y":{"field":"y","type":"quantitative","scale":{"domain":[1932,1097],"nice":false,"zero":false},"axis":null},"color":{"field":"h","type":"ordinal","scale":{"domain":[0,1,2,3,4,5,6,7,8,9,10,11,12,13,14,15,16,17,18]},"legend":null}},
"layer":[
{"transform":[{"filter":"datum.k==0"}],"mark":{"type":"point","filled":true,"size":290,"opacity":0.3}},
{"transform":[{"filter":"datum.k==0"}],"mark":{"type":"point","filled":true,"size":100,"opacity":0.35}},
{"transform":[{"filter":"datum.k==0"}],"mark":{"type":"point","filled":true,"size":20,"opacity":0.5},"encoding":{"color":{"value":"white"}}},
{"transform":[{"filter":"datum.k==1"}],"mark":{"type":"point","filled":true,"size":729,"opacity":1}},
{"mark":{"type":"text","font":"DejaVu Sans","fontSize":24,"align":"left","baseline":"alphabetic"},"encoding":{"text":{"field":"d","type":"nominal"},"color":{"value":"black"}}}
]},
{"width":1345,"height":835,"data":{"name":"e"},
"encoding":{"x":{"field":"x","type":"quantitative","scale":{"domain":[1471,2816],"nice":false,"zero":false},"axis":null},"y":{"field":"y","type":"quantitative","scale":{"domain":[1932,1097],"nice":false,"zero":false},"axis":null},"color":{"field":"h","type":"ordinal","scale":{"domain":[0,1,2,3,4,5,6,7,8,9,10,11,12,13,14,15,16,17,18]},"legend":null}},
"layer":[
{"transform":[{"filter":"datum.k==0"}],"mark":{"type":"point","filled":true,"size":290,"opacity":0.3}},
{"transform":[{"filter":"datum.k==0"}],"mark":{"type":"point","filled":true,"size":100,"opacity":0.35}},
{"transform":[{"filter":"datum.k==0"}],"mark":{"type":"point","filled":true,"size":20,"opacity":0.5},"encoding":{"color":{"value":"white"}}},
{"transform":[{"filter":"datum.k==1"}],"mark":{"type":"point","filled":true,"size":729,"opacity":1}},
{"mark":{"type":"text","font":"DejaVu Sans","fontSize":24,"align":"left","baseline":"alphabetic"},"encoding":{"text":{"field":"d","type":"nominal"},"color":{"value":"black"}}}
]}
]}
]}
